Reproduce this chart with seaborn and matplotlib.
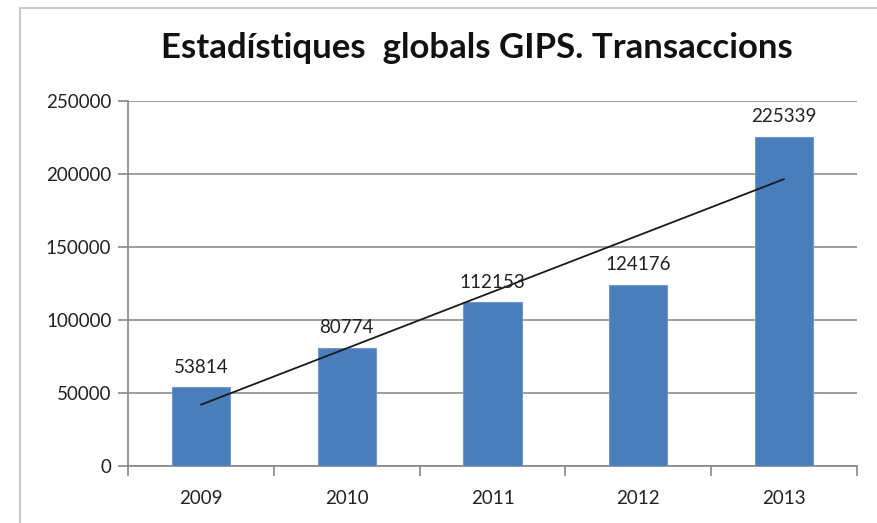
import numpy as np
import pandas as pd
import matplotlib
matplotlib.use('Agg')
import matplotlib.pyplot as plt
import seaborn as sns
from matplotlib.patches import Rectangle

years = ['2009', '2010', '2011', '2012', '2013']
transaccions = [53814, 80774, 112153, 124176, 225339]
yticks = [0, 50000, 100000, 150000, 200000, 250000]
title = 'Estadístiques  globals GIPS. Transaccions'

df = pd.DataFrame({'any': years, 'valor': transaccions})

sns.set_theme(style='white')
plt.rcParams['font.family'] = ['Lato', 'DejaVu Sans']

fig = plt.figure(figsize=(8.77, 5.23), dpi=100)
ax = fig.add_axes([128 / 877, 1 - 466 / 523, (857 - 128) / 877, (466 - 101) / 523])

# outer chart frame
fig.patches.append(Rectangle((20 / 877, -0.1), 1.2, 1 - 8 / 523 + 0.1, transform=fig.transFigure,
                             fill=False, edgecolor='#bfbfbf', lw=1.2))

sns.barplot(data=df, x='any', y='valor', color='#4a7ebb', width=0.4, saturation=1,
            edgecolor='#6f9ad0', linewidth=0.8, ax=ax, zorder=3)

# linear trend line
xs = np.arange(len(years))
k, b = np.polyfit(xs, transaccions, 1)
ax.plot(xs, k * xs + b, color='#1a1a1a', lw=1.3, zorder=4)

for i, v in enumerate(transaccions):
    ax.text(i, v + 8000, str(v), ha='center', va='bottom', fontsize=13.5, color='#222222', zorder=5)

ax.set_ylim(0, 250000)
ax.set_xlim(-0.5, 4.5)
ax.set_yticks(yticks)
ax.set_yticklabels([str(t) for t in yticks])
ax.set_xticks(xs)
ax.set_xticks(np.arange(-0.5, 5, 1), minor=True)
ax.tick_params(axis='x', which='major', length=0, pad=17, labelsize=13.5, labelcolor='#222222')
ax.tick_params(axis='x', which='minor', length=7, width=1.2, color='#888888', bottom=True, direction='out')
ax.tick_params(axis='y', length=7, width=1.2, color='#888888', left=True, direction='out',
               labelsize=13.5, labelcolor='#222222', pad=5)
ax.yaxis.grid(True, color='#8c8c8c', lw=1.2, zorder=0)
ax.set_axisbelow(True)
ax.set_xlabel('')
ax.set_ylabel('')
for s in ['top', 'right']:
    ax.spines[s].set_visible(False)
for s in ['left', 'bottom']:
    ax.spines[s].set_color('#888888')
    ax.spines[s].set_linewidth(1.2)

fig.text(477 / 877, 1 - 48 / 523, title, ha='center', va='center', fontsize=25,
         fontweight='bold', color='#111111')

fig.savefig('out.png', dpi=100)
